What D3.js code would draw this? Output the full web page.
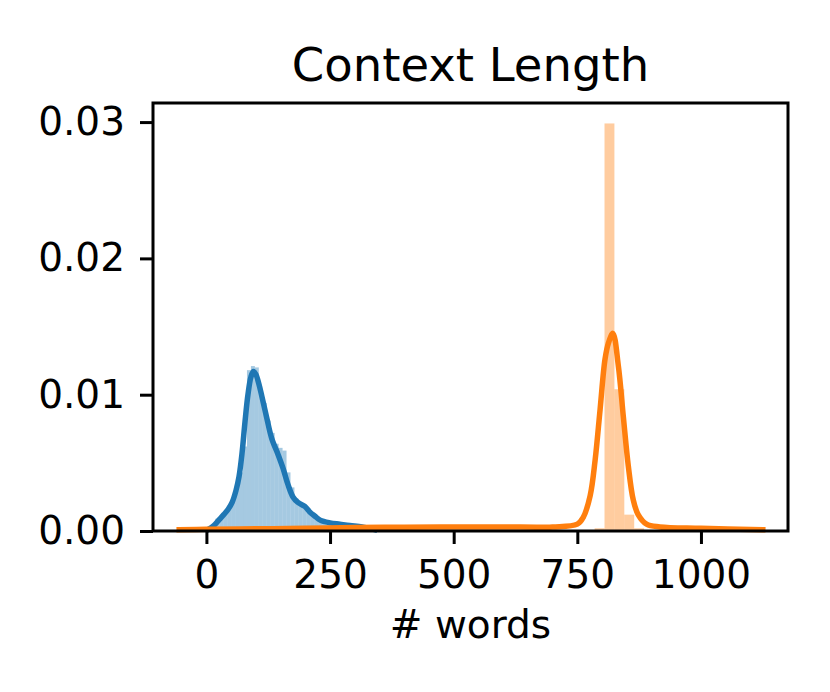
<!DOCTYPE html>
<html>
<head>
<meta charset="utf-8">
<script src="https://cdn.jsdelivr.net/npm/d3@7"></script>
<style>
  body { margin: 0; background: #fff; }
  text { font-family: "DejaVu Sans", sans-serif; fill: #000; }
</style>
</head>
<body>
<svg></svg>
<script>
// ---- data ----
const xTicks = [0, 250, 500, 750, 1000];
const yTicks = [0, 0.01, 0.02, 0.03];

// blue histogram: left edges (bin width 8 words) and densities
const blueBinWidth = 8;
const blueBinStart = [10, 18, 26, 34, 42, 50, 58, 66, 74, 82, 90, 98, 106, 114, 122, 130, 138, 146, 154, 162,
  170, 178, 186, 194, 202, 210, 218, 226, 234, 242, 250, 258, 266, 274, 282, 290, 298, 306];
const blueBinDensity = [0.0003, 0.0009, 0.0011, 0.0014, 0.0018, 0.0022, 0.0030, 0.0043, 0.0062, 0.0118, 0.0121, 0.0120,
  0.0104, 0.0094, 0.0081, 0.0072, 0.0064, 0.0061, 0.0059, 0.0043, 0.0032, 0.0024, 0.0021, 0.0019, 0.0015, 0.0012,
  0.0009, 0.0007, 0.0006, 0.0005, 0.0004, 0.0004, 0.0003, 0.0003, 0.0002, 0.0002, 0.0001, 0.0001];

// orange histogram: left edges (bin width 20 words) and densities
const orangeBinWidth = 20;
const orangeBinStart = [785, 805, 825, 845, 865];
const orangeBinDensity = [0.0002, 0.0299, 0.0104, 0.0012, 0.0002];

// kde curves
const blueKdeX = [3, 15, 25, 35, 44, 52, 60, 66, 72, 78, 84, 90, 95, 100, 106, 112, 122, 132, 145, 155, 165, 175,
  185, 199, 209, 219, 230, 250, 270, 290, 315, 340];
const blueKdeY = [0.0001, 0.0004, 0.0008, 0.0012, 0.0016, 0.0021, 0.0030, 0.0040, 0.0057, 0.0080, 0.0100, 0.0113,
  0.0117, 0.0115, 0.0108, 0.0099, 0.0083, 0.0068, 0.0056, 0.0046, 0.0034, 0.0025, 0.0021, 0.0018, 0.0014, 0.0011,
  0.0008, 0.0006, 0.0005, 0.0004, 0.0003, 0.0001];
const orangeKdeX = [-55, 0, 100, 200, 300, 400, 500, 600, 700, 750, 762, 776, 786, 796, 806, 813, 822, 833, 843,
  853, 863, 873, 890, 917, 1000, 1125];
const orangeKdeY = [0.0001, 0.00012, 0.00016, 0.0002, 0.00025, 0.00028, 0.0003, 0.0003, 0.0003, 0.0005, 0.0010,
  0.0026, 0.0052, 0.0089, 0.0126, 0.0138, 0.0145, 0.0121, 0.0084, 0.0048, 0.0023, 0.0012, 0.0005, 0.0003, 0.0002,
  0.0001];

const blue = '#1f77b4', orange = '#ff7f0e';

// ---- layout ----
const size = {w: 830, h: 692};
const box = {l: 153, r: 788, t: 103, b: 531};

const svg = d3.select('svg').attr('width', size.w).attr('height', size.h);
svg.append('rect').attr('width', size.w).attr('height', size.h).attr('fill', '#fff');

const x = d3.scaleLinear().domain([-108, 1176]).range([box.l, box.r]);
const y = d3.scaleLinear().domain([0, 0.0314]).range([box.b, box.t]);

const line = d3.line()
  .x(d => x(d[0]))
  .y(d => y(d[1]))
  .curve(d3.curveCatmullRom);

function drawHist(starts, dens, width, color) {
  svg.append('g').selectAll('rect')
    .data(starts.map((s, i) => [s, dens[i]]))
    .join('rect')
    .attr('x', d => x(d[0]))
    .attr('width', d => x(d[0] + width) - x(d[0]))
    .attr('y', d => y(d[1]))
    .attr('height', d => y(0) - y(d[1]))
    .attr('fill', color)
    .attr('fill-opacity', 0.4);
}

function drawKde(xs, ys, color) {
  svg.append('path')
    .datum(xs.map((v, i) => [v, ys[i]]))
    .attr('d', line)
    .attr('fill', 'none')
    .attr('stroke', color)
    .attr('stroke-width', 5.5)
    .attr('stroke-linejoin', 'round')
    .attr('stroke-linecap', 'square');
}

drawHist(blueBinStart, blueBinDensity, blueBinWidth, blue);
drawKde(blueKdeX, blueKdeY, blue);
drawHist(orangeBinStart, orangeBinDensity, orangeBinWidth, orange);
drawKde(orangeKdeX, orangeKdeY, orange);

// axes
const xAxis = d3.axisBottom(x).tickValues(xTicks).tickSize(13).tickPadding(16).tickFormat(d3.format('d'));
const yAxis = d3.axisLeft(y).tickValues(yTicks).tickSize(13).tickPadding(15).tickFormat(d3.format('.2f'));

const gx = svg.append('g').attr('transform', `translate(0,${box.b})`).call(xAxis);
const gy = svg.append('g').attr('transform', `translate(${box.l},0)`).call(yAxis);
[gx, gy].forEach(g => {
  g.select('.domain').remove();
  g.selectAll('.tick line').attr('stroke', '#000').attr('stroke-width', 3);
  g.selectAll('.tick text').attr('font-size', 39).attr('font-family', '"DejaVu Sans", sans-serif');
});

// frame
svg.append('rect')
  .attr('x', box.l).attr('y', box.t)
  .attr('width', box.r - box.l).attr('height', box.b - box.t)
  .attr('fill', 'none').attr('stroke', '#000').attr('stroke-width', 3);

svg.append('text')
  .attr('x', (box.l + box.r) / 2).attr('y', 81)
  .attr('text-anchor', 'middle').attr('font-size', 46.5)
  .text('Context Length');

svg.append('text')
  .attr('x', (box.l + box.r) / 2).attr('y', 638)
  .attr('text-anchor', 'middle').attr('font-size', 39)
  .text('# words');
</script>
</body>
</html>
